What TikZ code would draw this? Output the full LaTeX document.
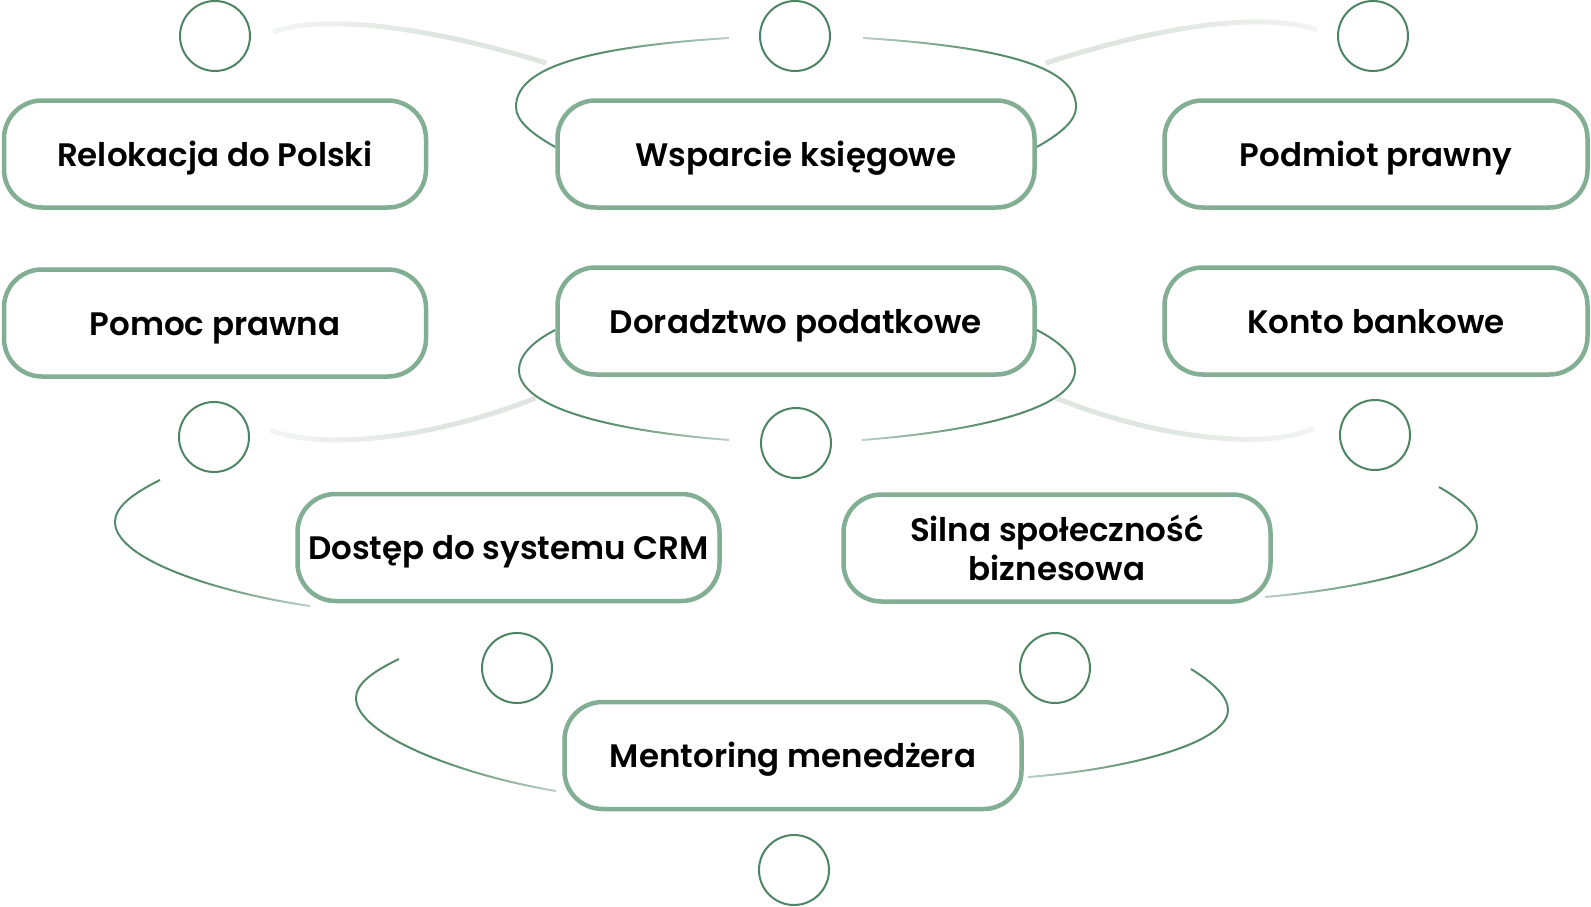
\documentclass[tikz,border=0pt]{standalone}
\usepackage{fontspec}
\setmainfont{Poppins}[UprightFont={* SemiBold}]
\usetikzlibrary{fadings,backgrounds}
\definecolor{boxc}{HTML}{82AE93}
\definecolor{circc}{HTML}{4D8463}
\definecolor{arcc}{HTML}{558B6B}
\definecolor{grayc}{HTML}{DFE6E2}
\pgfdeclarehorizontalshading{shfR}{100bp}{color(0bp)=(white); color(45bp)=(white); color(95bp)=(black); color(100bp)=(black)}
\pgfdeclarefading{fR}{\pgfuseshading{shfR}}
\pgfdeclarehorizontalshading{shfL}{100bp}{color(0bp)=(black); color(5bp)=(black); color(55bp)=(white); color(100bp)=(white)}
\pgfdeclarefading{fL}{\pgfuseshading{shfL}}
\tikzset{
  box/.style={draw=boxc, line width=4.5pt, fill=white, rounded corners=38pt,
    minimum height=107pt, inner sep=0pt, align=center,
    font=\fontsize{32.5}{39}\selectfont, text=black},
  oneline/.style={text height=30pt, text depth=6pt},
  ring/.style={circle, draw=circc, line width=2pt, fill=white, minimum size=70pt, inner sep=0pt},
  arc/.style={draw=arcc, line width=2pt},
  grayarc/.style={draw=grayc, line width=5pt}
}
\begin{document}
\begin{tikzpicture}[x=1pt,y=-1pt]
\useasboundingbox (0,0) rectangle (1591,907);
% boxes
\node[box, oneline, minimum width=422pt] (b1) at (215,154) {Relokacja do Polski};
\node[box, oneline, minimum width=477pt] (b2) at (796,154) {Wsparcie księgowe};
\node[box, oneline, minimum width=423pt] (b3) at (1376,154) {Podmiot prawny};
\node[box, oneline, minimum width=422pt] (b4) at (215,323) {Pomoc prawna};
\node[box, oneline, minimum width=477pt] (b5) at (796,321) {Doradztwo podatkowe};
\node[box, oneline, minimum width=423pt] (b6) at (1376,321) {Konto bankowe};
\node[box, oneline, minimum width=422pt] (b7) at (508.5,547.5) {Dostęp do systemu CRM};
\node[box, minimum width=427pt] (b8) at (1057,548) {Silna społeczność\\biznesowa};
\node[box, oneline, minimum width=457pt] (b9) at (793,755.5) {Mentoring menedżera};
% circles
\node[ring] (c1) at (215,36) {};
\node[ring] (c2) at (795,36) {};
\node[ring] (c3) at (1373,36) {};
\node[ring] (c4) at (214,437) {};
\node[ring] (c5) at (796,443) {};
\node[ring] (c6) at (1375,435) {};
\node[ring] (c7) at (517,668) {};
\node[ring] (c8) at (1055,668) {};
\node[ring] (c9) at (794,870) {};
% free ends
\coordinate (g1s) at (273,32);  \coordinate (g1e) at (546,63);
\coordinate (g2s) at (1046,63); \coordinate (g2e) at (1317,30);
\coordinate (g3s) at (536,398); \coordinate (g3e) at (270,430);
\coordinate (g4s) at (1056,398);\coordinate (g4e) at (1314,428);
\coordinate (a1e) at (729,38);  \coordinate (a2e) at (863,38);
\coordinate (a3e) at (729,440); \coordinate (a4e) at (862,440);
\coordinate (a5s) at (160,480); \coordinate (a5e) at (310,606);
\coordinate (a6s) at (1439,487);\coordinate (a6e) at (1265,597);
\coordinate (a7s) at (399,659); \coordinate (a7e) at (556,791);
\coordinate (a8s) at (1191,669);\coordinate (a8e) at (1028,777);
\begin{scope}[on background layer]
% gray arcs
\draw[grayarc, path fading=fL] (g1s) .. controls (310,18) and (400,18) .. (g1e);
\draw[grayarc, path fading=fR] (g2s) .. controls (1180,20) and (1270,14) .. (g2e);
\draw[grayarc, path fading=fL] (g3e) .. controls (320,450) and (430,440) .. (g3s);
\draw[grayarc, path fading=fR] (g4s) .. controls (1160,440) and (1270,450) .. (g4e);
% green arcs
\draw[arc, path fading=fR] ([yshift=7pt]b2.west) .. controls (530,133) and (516,120) .. (516,107)
   .. controls (516,72) and (570,48) .. (a1e);
\draw[arc, path fading=fL] ([yshift=7pt]b2.east) .. controls (1062,133) and (1076,120) .. (1076,107)
   .. controls (1076,72) and (1022,48) .. (a2e);
\draw[arc, path fading=fR] ([yshift=-9pt]b5.west) .. controls (530,343) and (519,357) .. (519,370)
   .. controls (519,405) and (600,430) .. (a3e);
\draw[arc, path fading=fL] ([yshift=-9pt]b5.east) .. controls (1062,343) and (1075,357) .. (1075,370)
   .. controls (1075,405) and (992,430) .. (a4e);
\draw[arc, path fading=fR] (a5s) .. controls (130,495) and (115,508) .. (115,522)
   .. controls (115,560) and (220,593) .. (a5e);
\draw[arc, path fading=fL] (a6s) .. controls (1465,502) and (1477,514) .. (1477,527)
   .. controls (1477,562) and (1370,588) .. (a6e);
\draw[arc, path fading=fR] (a7s) .. controls (372,672) and (356,684) .. (356,698)
   .. controls (356,735) and (460,775) .. (a7e);
\draw[arc, path fading=fL] (a8s) .. controls (1215,684) and (1228,697) .. (1228,710)
   .. controls (1228,745) and (1120,770) .. (a8e);
\end{scope}
\end{tikzpicture}
\end{document}
